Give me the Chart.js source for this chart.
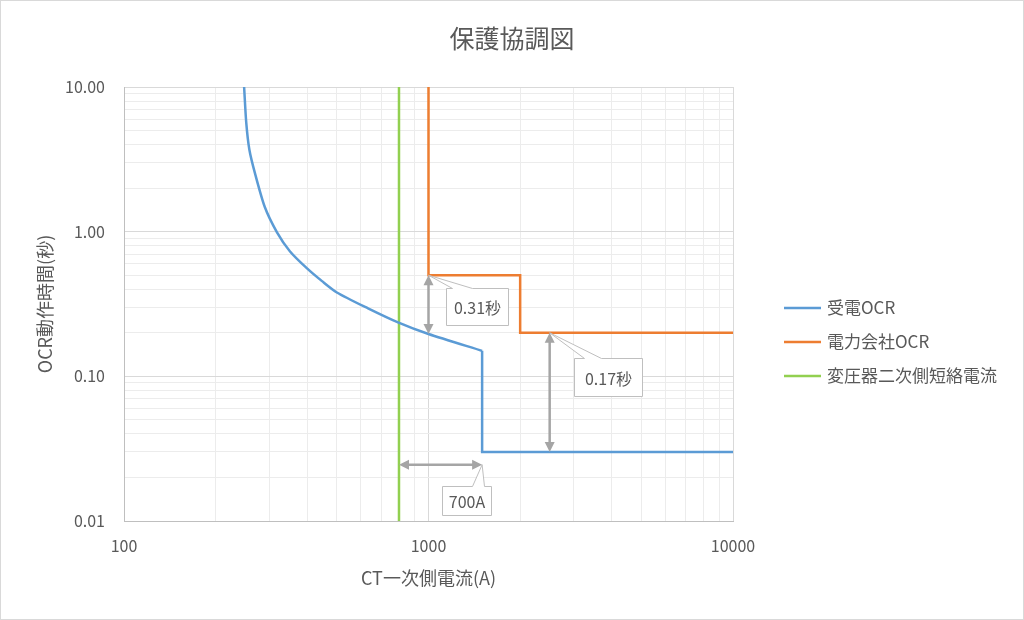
<!DOCTYPE html>
<html lang="ja">
<head>
<meta charset="utf-8">
<title>保護協調図</title>
<script src="https://cdn.jsdelivr.net/npm/chart.js@4.4.1/dist/chart.umd.min.js"></script>
<style>
  html, body { margin: 0; padding: 0; background: #fff; }
  #wrap { width: 1024px; height: 620px; position: relative; }
</style>
</head>
<body>
<div id="wrap"><canvas id="ocrChart"></canvas></div>
<script>
// 受電OCR (CT一次側電流 A / 動作時間 秒)
const receiveCurrent = [248, 252, 258, 269, 290, 318, 351, 400, 447, 500, 633, 794, 1000, 1500, 1500, 10000];
const receiveTime = [10, 5.7, 3.7, 2.55, 1.48, 0.99, 0.73, 0.555, 0.455, 0.38, 0.295, 0.236, 0.196, 0.15, 0.03, 0.03];
const receiveCurveEnd = 13; // ここまでが反限時特性の曲線部分

// 電力会社OCR
const utilityCurrent = [1000, 1000, 2000, 2000, 10000];
const utilityTime = [10, 0.5, 0.5, 0.2, 0.2];

// 変圧器二次側短絡電流
const shortCurrent = [800, 800];
const shortTime = [0.01, 10];

const seriesLabels = ['受電OCR', '電力会社OCR', '変圧器二次側短絡電流'];
const chartTitle = '保護協調図';

const xTickValues = [100, 1000, 10000];
const xTickLabels = ['100', '1000', '10000'];
const yTickValues = [0.01, 0.1, 1, 10];
const yTickLabels = ['0.01', '0.10', '1.00', '10.00'];

// 協調の差 (矢印の両端, データ値)
const gapFromX = [1000, 2500, 800];
const gapFromY = [0.5, 0.2, 0.0245];
const gapToX = [1000, 2500, 1500];
const gapToY = [0.196, 0.03, 0.0245];
const gapLabels = ['0.31秒', '0.17秒', '700A'];

// 吹き出しの見た目 (アンカーからのずれ, ピクセル)
const calloutStyle = [
  { anchor: 'from', dx: 17, dy: 13, w: 62, h: 37, n1: 6, n2: 26 },
  { anchor: 'from', dx: 24, dy: 25, w: 68, h: 38, n1: 10, n2: 27 },
  { anchor: 'to', dx: -40, dy: 21, w: 49, h: 29, n1: 30, n2: 42 }
];

const FONT = '"Noto Sans CJK JP", "Noto Sans", sans-serif';
const TEXT_COLOR = '#595959';
const ARROW_COLOR = '#a5a5a5';

function toPoints(xs, ys) {
  return xs.map((x, i) => ({ x: x, y: ys[i] }));
}

function isDecade(v) {
  const l = Math.log10(v);
  return Math.abs(l - Math.round(l)) < 1e-9;
}

// 1〜9 の補助目盛り付きの対数目盛り
function logTicks(min, max) {
  const ticks = [];
  const e0 = Math.round(Math.log10(min));
  const e1 = Math.round(Math.log10(max));
  for (let e = e0; e < e1; e++) {
    for (let m = 1; m < 10; m++) {
      ticks.push({ value: +(m * Math.pow(10, e)).toPrecision(6) });
    }
  }
  ticks.push({ value: max });
  return ticks;
}

function labelFor(values, labels) {
  return function (value) {
    const i = values.findIndex(t => Math.abs(t - value) / t < 1e-6);
    return i >= 0 ? labels[i] : '';
  };
}

function gridColor(c) {
  return c.tick && isDecade(c.tick.value) ? '#d9d9d9' : '#ececec';
}

// 背景・外枠・タイトル
const frame = {
  id: 'frame',
  beforeDraw(chart) {
    const ctx = chart.ctx;
    ctx.save();
    ctx.fillStyle = '#fff';
    ctx.fillRect(0, 0, chart.width, chart.height);
    ctx.strokeStyle = '#d9d9d9';
    ctx.lineWidth = 1;
    ctx.strokeRect(0.5, 0.5, chart.width - 1, chart.height - 1);
    ctx.fillStyle = TEXT_COLOR;
    ctx.font = '25px ' + FONT;
    ctx.textAlign = 'center';
    ctx.textBaseline = 'middle';
    ctx.fillText(chartTitle, chart.width / 2, 38);
    ctx.restore();
  }
};

function arrowHead(ctx, x, y, ang) {
  const len = 10, half = 5;
  ctx.beginPath();
  ctx.moveTo(x, y);
  ctx.lineTo(x - len * Math.cos(ang) + half * Math.sin(ang), y - len * Math.sin(ang) - half * Math.cos(ang));
  ctx.lineTo(x - len * Math.cos(ang) - half * Math.sin(ang), y - len * Math.sin(ang) + half * Math.cos(ang));
  ctx.closePath();
  ctx.fill();
}

// 両矢印と吹き出し
const gapMarks = {
  id: 'gapMarks',
  afterDatasetsDraw(chart) {
    const ctx = chart.ctx;
    const xs = chart.scales.x, ys = chart.scales.y;
    ctx.save();
    gapLabels.forEach((label, i) => {
      const x1 = xs.getPixelForValue(gapFromX[i]), y1 = ys.getPixelForValue(gapFromY[i]);
      const x2 = xs.getPixelForValue(gapToX[i]), y2 = ys.getPixelForValue(gapToY[i]);
      const ang = Math.atan2(y2 - y1, x2 - x1);
      ctx.strokeStyle = ARROW_COLOR;
      ctx.fillStyle = ARROW_COLOR;
      ctx.lineWidth = 2.5;
      ctx.beginPath();
      ctx.moveTo(x1 + 8 * Math.cos(ang), y1 + 8 * Math.sin(ang));
      ctx.lineTo(x2 - 8 * Math.cos(ang), y2 - 8 * Math.sin(ang));
      ctx.stroke();
      arrowHead(ctx, x2, y2, ang);
      arrowHead(ctx, x1, y1, ang + Math.PI);

      const st = calloutStyle[i];
      const ax = st.anchor === 'from' ? x1 : x2;
      const ay = st.anchor === 'from' ? y1 : y2;
      const bx = Math.round(ax + st.dx) + 0.5, by = Math.round(ay + st.dy) + 0.5;
      ctx.beginPath();
      ctx.moveTo(bx, by);
      ctx.lineTo(bx + st.n1, by);
      ctx.lineTo(ax, ay);
      ctx.lineTo(bx + st.n2, by);
      ctx.lineTo(bx + st.w, by);
      ctx.lineTo(bx + st.w, by + st.h);
      ctx.lineTo(bx, by + st.h);
      ctx.closePath();
      ctx.fillStyle = '#fff';
      ctx.fill();
      ctx.strokeStyle = '#bfbfbf';
      ctx.lineWidth = 1;
      ctx.stroke();
      ctx.fillStyle = TEXT_COLOR;
      ctx.font = '16px ' + FONT;
      ctx.textAlign = 'center';
      ctx.textBaseline = 'middle';
      ctx.fillText(label, bx + st.w / 2, by + st.h / 2 + 1);
    });
    ctx.restore();
  }
};

// 右側の凡例
const sideLegend = {
  id: 'sideLegend',
  afterDraw(chart) {
    const ctx = chart.ctx;
    ctx.save();
    ctx.font = '17px ' + FONT;
    ctx.textBaseline = 'middle';
    ctx.textAlign = 'left';
    chart.data.datasets.filter(ds => ds.inLegend).forEach((ds, i) => {
      const y = 308 + i * 34;
      ctx.strokeStyle = ds.borderColor;
      ctx.lineWidth = 2.5;
      ctx.beginPath();
      ctx.moveTo(784, y);
      ctx.lineTo(821, y);
      ctx.stroke();
      ctx.fillStyle = TEXT_COLOR;
      ctx.fillText(ds.label, 827, y);
    });
    ctx.restore();
  }
};

const lineStyle = { showLine: true, pointRadius: 0, pointHoverRadius: 0, borderWidth: 2.5, fill: false };

const receivePoints = toPoints(receiveCurrent, receiveTime);

new Chart(document.getElementById('ocrChart'), {
  type: 'scatter',
  data: {
    datasets: [
      Object.assign({ label: seriesLabels[0], inLegend: true, data: receivePoints.slice(0, receiveCurveEnd + 1), borderColor: '#5b9bd5', tension: 0.25 }, lineStyle),
      Object.assign({ label: seriesLabels[0], inLegend: false, data: receivePoints.slice(receiveCurveEnd), borderColor: '#5b9bd5', tension: 0 }, lineStyle),
      Object.assign({ label: seriesLabels[1], inLegend: true, data: toPoints(utilityCurrent, utilityTime), borderColor: '#ed7d31', tension: 0 }, lineStyle),
      Object.assign({ label: seriesLabels[2], inLegend: true, data: toPoints(shortCurrent, shortTime), borderColor: '#92d050', tension: 0 }, lineStyle)
    ]
  },
  options: {
    responsive: true,
    maintainAspectRatio: false,
    animation: false,
    layout: { padding: { left: 0, right: 291, top: 87, bottom: 0 } },
    plugins: {
      legend: { display: false },
      tooltip: { enabled: false },
      title: { display: false }
    },
    scales: {
      x: {
        type: 'logarithmic',
        position: 'bottom',
        min: 100,
        max: 10000,
        afterBuildTicks: s => { s.ticks = logTicks(100, 10000); },
        afterFit: s => { s.height = 99; },
        grid: { color: gridColor, drawTicks: false },
        border: { color: '#bfbfbf', width: 1 },
        ticks: {
          autoSkip: false,
          maxRotation: 0,
          padding: 15,
          color: TEXT_COLOR,
          font: { family: FONT, size: 16 },
          callback: labelFor(xTickValues, xTickLabels)
        },
        title: {
          display: true,
          text: 'CT一次側電流(A)',
          color: TEXT_COLOR,
          font: { family: FONT, size: 18 },
          padding: { top: 0, bottom: 31 }
        }
      },
      y: {
        type: 'logarithmic',
        position: 'left',
        min: 0.01,
        max: 10,
        afterBuildTicks: s => { s.ticks = logTicks(0.01, 10); },
        afterFit: s => { s.width = 124; },
        grid: { color: gridColor, drawTicks: false },
        border: { color: '#bfbfbf', width: 1 },
        ticks: {
          autoSkip: false,
          padding: 19,
          color: TEXT_COLOR,
          font: { family: FONT, size: 16 },
          callback: labelFor(yTickValues, yTickLabels)
        },
        title: {
          display: true,
          text: 'OCR動作時間(秒)',
          color: TEXT_COLOR,
          font: { family: FONT, size: 18 },
          padding: { top: 34, bottom: 0 }
        }
      }
    }
  },
  plugins: [frame, gapMarks, sideLegend]
});
</script>
</body>
</html>
